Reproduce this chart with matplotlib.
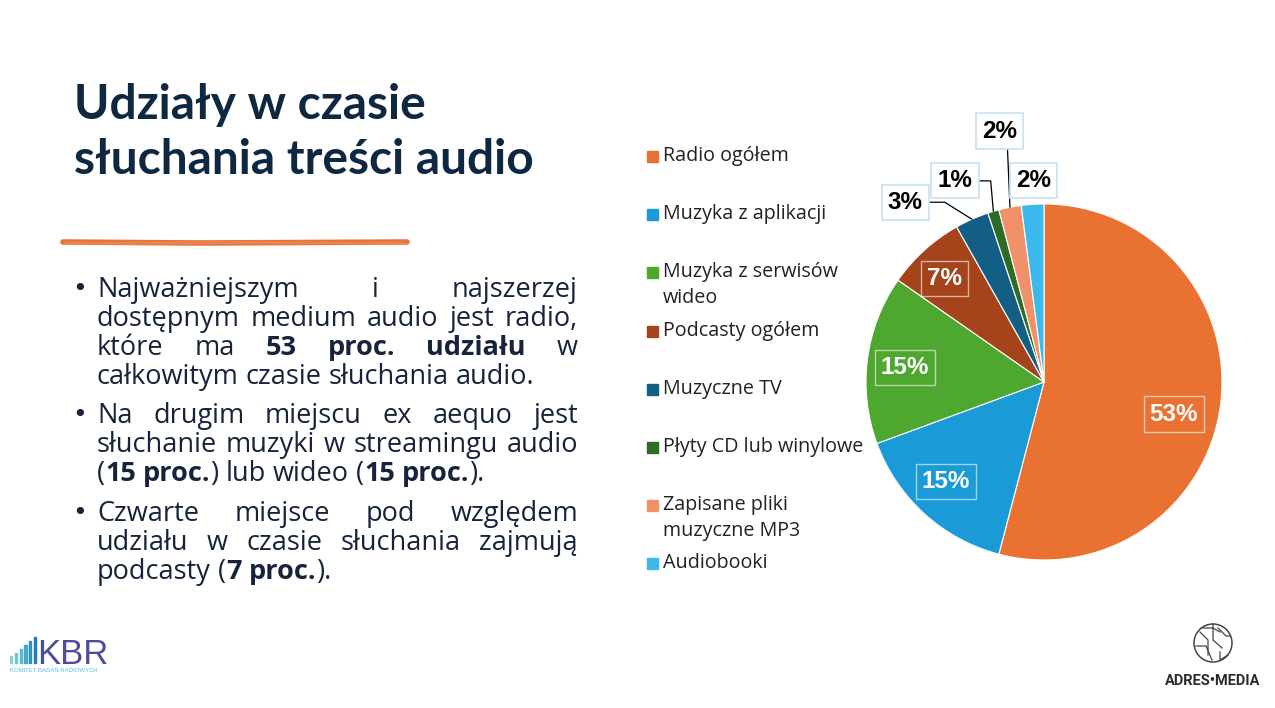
import numpy as np
import matplotlib.pyplot as plt
from matplotlib.patches import Rectangle, Circle

# --- dane ---
categories = ['Radio ogółem', 'Muzyka z aplikacji', 'Muzyka z serwisów\nwideo',
              'Podcasty ogółem', 'Muzyczne TV', 'Płyty CD lub winylowe',
              'Zapisane pliki\nmuzyczne MP3', 'Audiobooki']
shares = [53, 15, 15, 7, 3, 1, 2, 2]
colors = ['#E97132', '#1A9AD6', '#4EA72E', '#A5441A', '#135E85', '#2D6B27',
          '#F0916A', '#3BB9EC']

title_lines = ['Udziały w czasie', 'słuchania treści audio']
bullets = [
    ['Najważniejszym i najszerzej',
     'dostępnym medium audio jest radio,',
     'które ma **53 proc. udziału** w',
     'całkowitym czasie słuchania audio.'],
    ['Na drugim miejscu ex aequo jest',
     'słuchanie muzyki w streamingu audio',
     '(**15 proc.**) lub wideo (**15 proc.**).'],
    ['Czwarte miejsce pod względem',
     'udziału w czasie słuchania zajmują',
     'podcasty (**7 proc.**).'],
]

# label positions (in pie radius units), layout only
label_pos = [(0.73, -0.18), (-0.55, -0.56), (-0.78, 0.08), (-0.56, 0.58),
             (-0.78, 1.01), (-0.50, 1.13), (-0.25, 1.41), (-0.06, 1.13)]
outside = [4, 5, 6, 7]

W, H = 1275, 708
NAVY = '#0E2841'
TEXT = '#16233A'
TITLE_FONT = 'Lato'
BODY_FONT = 'Open Sans'

fig = plt.figure(figsize=(W / 100, H / 100), dpi=100)
fig.patch.set_facecolor('white')
bg = fig.add_axes([0, 0, 1, 1])
bg.set_xlim(0, W)
bg.set_ylim(H, 0)
bg.axis('off')
renderer = fig.canvas.get_renderer()

# title
for i, line in enumerate(title_lines):
    bg.text(74, 119 + i * 55, line, fontsize=34.5, fontweight='bold', color=NAVY,
            family=TITLE_FONT, va='baseline', ha='left')

# brush stroke
bg.plot([63, 200, 407], [242, 243, 242], color='#E8733A', lw=4, solid_capstyle='round')
bg.plot([66, 250, 404], [243.5, 242.5, 243.5], color='#EE8A55', lw=2, solid_capstyle='round', alpha=0.7)

# bullet text, justified
body_kw = dict(fontsize=19.5, color=TEXT, family=BODY_FONT, va='baseline', ha='left')
x_left, x_right = 97, 578
t1 = bg.text(0, 0, 'aa', **body_kw)
t2 = bg.text(0, 0, 'a a', **body_kw)
space_w = t2.get_window_extent(renderer).width - t1.get_window_extent(renderer).width
t1.remove()
t2.remove()

para_y = [297, 423, 521]
line_step = 29
for p, para in enumerate(bullets):
    bg.text(72, para_y[p] - 1, '•', fontsize=18, color=TEXT, family='DejaVu Sans',
            va='baseline', ha='left')
    bold = False
    for k, line in enumerate(para):
        y = para_y[p] + k * line_step
        words = []
        for word in line.split(' '):
            parts = []
            for j, part in enumerate(word.split('**')):
                if j:
                    bold = not bold
                if part:
                    t = bg.text(0, y, part, fontweight='bold' if bold else 'normal', **body_kw)
                    parts.append((t, t.get_window_extent(renderer).width))
            words.append(parts)
        widths = [sum(w for _, w in parts) for parts in words]
        if k < len(para) - 1 and len(words) > 1:
            gap = (x_right - x_left - sum(widths)) / (len(words) - 1)
        else:
            gap = space_w
        x = x_left
        for parts, ww in zip(words, widths):
            xx = x
            for t, w in parts:
                t.set_x(xx)
                xx += w
            x += ww + gap

# legend
leg_y0, leg_step = 156, 58.2
for i, (lab, c) in enumerate(zip(categories, colors)):
    y = leg_y0 + i * leg_step
    bg.add_patch(Rectangle((647, y - 5), 11, 11, color=c))
    for k, sub in enumerate(lab.split('\n')):
        bg.text(663, y + k * 26, sub, fontsize=14.2, color='#222222', family=BODY_FONT,
                va='center', ha='left')

# pie
cx, cy, R = 1044, 382, 178
span = 1.6
ax = fig.add_axes([(cx - span * R) / W, (H - cy - span * R) / H, 2 * span * R / W, 2 * span * R / H])
wedges, _ = ax.pie(shares, colors=colors, startangle=90, counterclock=False,
                   wedgeprops=dict(edgecolor='white', linewidth=0.8))
ax.set_xlim(-span, span)
ax.set_ylim(-span, span)
ax.set_aspect('equal')
ax.axis('off')

lab_kw = dict(fontsize=17.5, fontweight='bold', family='Liberation Sans', ha='center', va='center')
for i, (w, v) in enumerate(zip(wedges, shares)):
    mid = np.deg2rad((w.theta1 + w.theta2) / 2)
    if i not in outside:
        ax.text(*label_pos[i], f'{v}%', color='white',
                bbox=dict(boxstyle='square,pad=0.25', fc='none', ec=(1, 1, 1, 0.6), lw=1), **lab_kw)
    else:
        box = dict(boxstyle='square,pad=0.25', fc='white', ec='#C9E0F0', lw=1.2)
        edge = (np.cos(mid), np.sin(mid))
        line_kw = dict(arrowstyle='-', color='black', lw=0.9, shrinkA=0, shrinkB=0)
        if i == 4:
            ap = dict(relpos=(1, 0.5), connectionstyle='angle,angleA=0,angleB=-32,rad=0', **line_kw)
        elif i == 5:
            ap = dict(relpos=(1, 0.5), connectionstyle='angle,angleA=0,angleB=-85,rad=0', **line_kw)
        elif i == 6:
            ap = dict(relpos=(0.72, 0), **line_kw)
        else:
            ap = None
        ax.annotate(f'{v}%', xy=edge, xytext=label_pos[i], color='black', bbox=box,
                    arrowprops=ap, **lab_kw)

# KBR logo
bar_h = [7, 10, 14, 18, 22, 26]
for j, h in enumerate(bar_h):
    bg.add_patch(Rectangle((10 + j * 4.8, 663 - h), 2.2, h, color=plt.cm.GnBu(0.45 + j * 0.07)))
bg.text(37, 664, 'KBR', fontsize=25, color='#4B4D9B', family='Liberation Sans',
        va='baseline', ha='left')
bg.text(10, 671, 'KOMITET BADAŃ RADIOWYCH', fontsize=4.3, color='#5BBFD6',
        family='Liberation Sans', va='center', ha='left')

# ADRES MEDIA logo
bg.add_patch(Circle((1213, 643), 19, fill=False, ec='#444444', lw=1.1))
for seg in [([1200, 1208, 1208], [632, 640, 655]), ([1213, 1213, 1222], [624, 640, 648]),
            ([1218, 1226, 1230], [628, 636, 636]), ([1196, 1206, 1212], [646, 646, 660]),
            ([1203, 1213, 1220], [628, 628, 632]), ([1220, 1220, 1228], [652, 660, 655])]:
    bg.plot(seg[0], seg[1], color='#444444', lw=0.9)
bg.text(1213, 681, 'ADRES•MEDIA', fontsize=10.5, fontweight='bold', color='#2B2B2B',
        family='Roboto', va='center', ha='center')

fig.savefig('out.png', dpi=100, facecolor='white')
